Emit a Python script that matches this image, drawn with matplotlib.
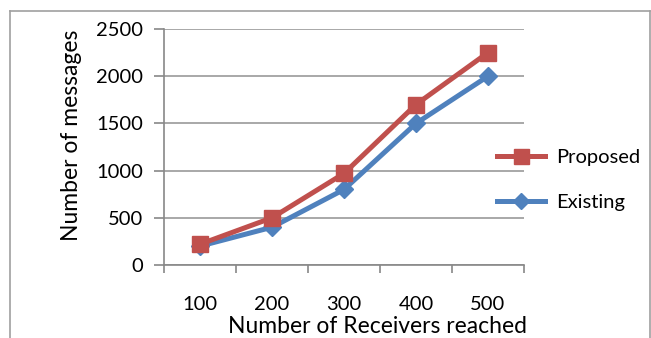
import matplotlib.pyplot as plt
from matplotlib.lines import Line2D

receivers = ["100", "200", "300", "400", "500"]
proposed = [220, 500, 970, 1700, 2250]
existing = [200, 400, 800, 1500, 2000]
y_ticks = [0, 500, 1000, 1500, 2000, 2500]

plt.rcParams['font.family'] = ['Lato', 'DejaVu Sans']

W, H = 651, 338
fig = plt.figure(figsize=(W / 100, H / 100), dpi=100)
ax = fig.add_axes([164 / W, 1 - 265 / H, (524 - 164) / W, (265 - 29) / H])

x = list(range(1, len(receivers) + 1))
ax.plot(x, proposed, color="#C0504D", lw=3.6, marker="s", ms=12, label="Proposed", zorder=3)
ax.plot(x, existing, color="#4F81BD", lw=3.6, marker="D", ms=9, label="Existing", zorder=2)

ax.set_xlim(0.5, 5.5)
ax.set_ylim(0, 2500)
ax.set_yticks(y_ticks)
ax.set_xticks([i + 0.5 for i in range(0, 6)])
ax.set_xticklabels([])
ax.set_xticks(x, minor=True)
ax.set_xticklabels(receivers, minor=True, fontsize=14.5)
ax.tick_params(axis="x", which="minor", length=0, pad=22)
ax.tick_params(axis="x", which="major", length=6, color="#888888", width=1.2)
ax.tick_params(axis="y", length=7, color="#888888", width=1.2, labelsize=14.5, pad=8)
ax.yaxis.grid(True, color="#999999", lw=1.2)
ax.set_axisbelow(True)
for s in ["top", "right"]:
    ax.spines[s].set_visible(False)
for s in ["left", "bottom"]:
    ax.spines[s].set_color("#888888")
    ax.spines[s].set_linewidth(1.2)

ax.set_xlabel("Number of Receivers reached", fontsize=16.5)
ax.xaxis.set_label_coords((378 - 164) / 360, (265 - 316) / 236)
ax.set_ylabel("Number of messages", fontsize=16.5)
ax.yaxis.set_label_coords((82 - 164) / 360, (265 - 135) / 236)

ax.legend(loc="center left", bbox_to_anchor=(497 / W, 1 - 180 / H), bbox_transform=fig.transFigure,
          frameon=False, fontsize=14.5, handlelength=2.4, labelspacing=1.35, handletextpad=0.55,
          borderpad=0, borderaxespad=0, markerscale=0.9)

# outer chart border
c = "#A0A0A0"
fig.add_artist(Line2D([10 / W, 10 / W], [0, 1 - 11 / H], color=c, lw=1.2))
fig.add_artist(Line2D([10 / W, 650 / W], [1 - 11 / H, 1 - 11 / H], color=c, lw=1.2))
fig.add_artist(Line2D([649.5 / W, 649.5 / W], [0, 1 - 11 / H], color=c, lw=1.2))

fig.savefig("out.png", dpi=100)
